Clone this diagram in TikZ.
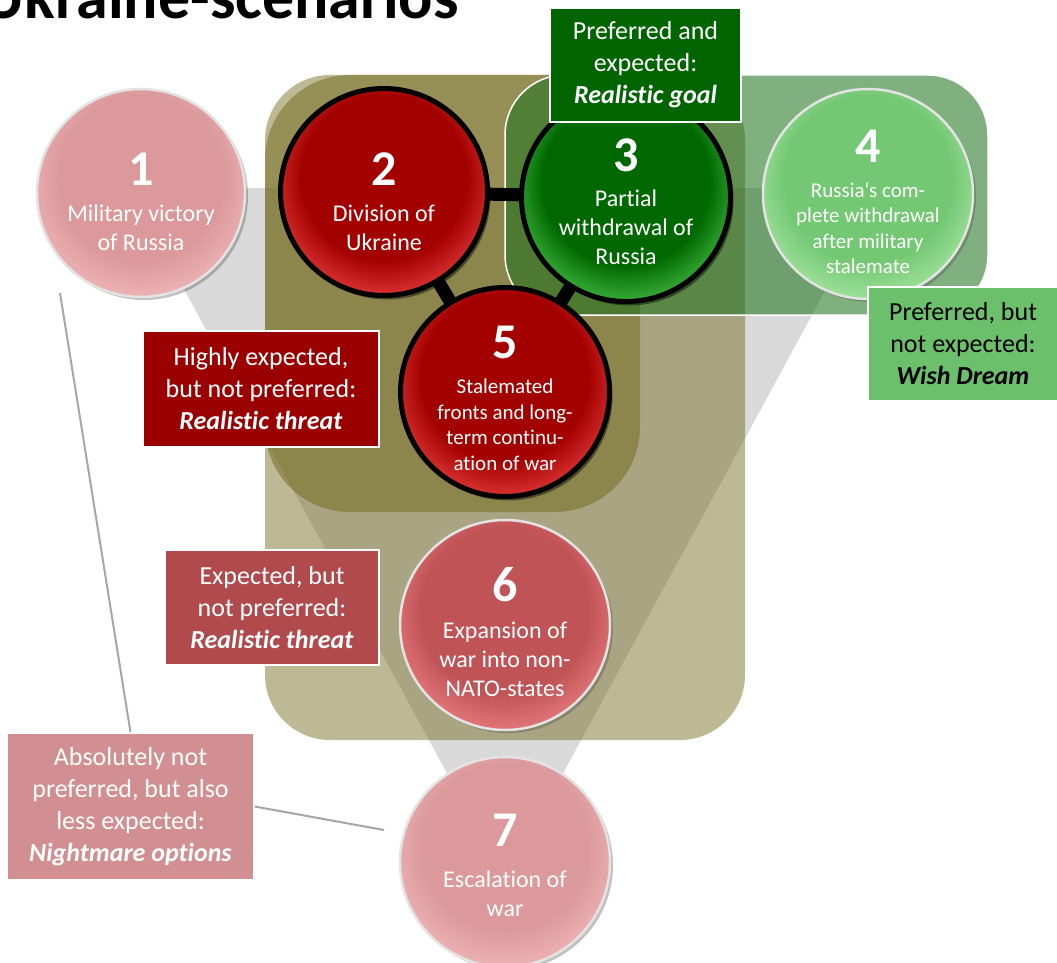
\documentclass[tikz,border=0pt]{standalone}
\usepackage{fontspec}
\setmainfont{Carlito}[Ligatures=NoCommon]
\usetikzlibrary{shadows}

% palette
\definecolor{funnelgray}{HTML}{D9D9D9}
\definecolor{khaki}{HTML}{736A1E}
\definecolor{zonegreen}{HTML}{1D721B}
\definecolor{pinkA}{HTML}{DB999B}
\definecolor{pinkB}{HTML}{F4BDBE}
\definecolor{redA}{HTML}{A30000}
\definecolor{redB}{HTML}{F04848}
\definecolor{greenA}{HTML}{006800}
\definecolor{greenB}{HTML}{52CA52}
\definecolor{lgreenA}{HTML}{74C874}
\definecolor{lgreenB}{HTML}{AEEAA8}
\definecolor{roseA}{HTML}{C05356}
\definecolor{roseB}{HTML}{F08486}
\definecolor{boxgreen}{HTML}{006400}
\definecolor{boxlgreen}{HTML}{6DC06B}
\definecolor{boxdred}{HTML}{9A0000}
\definecolor{boxred}{HTML}{B04A4D}
\definecolor{boxpink}{HTML}{D18F91}
\definecolor{pointergray}{HTML}{A6A6A6}

% glossy button fills: flat on top, brighter crescent towards the bottom
\pgfdeclareradialshading{glossPink}{\pgfpoint{0bp}{6bp}}{color(0bp)=(pinkA); color(20bp)=(pinkA); color(31bp)=(pinkB); color(50bp)=(pinkB)}
\pgfdeclareradialshading{glossRed}{\pgfpoint{0bp}{6bp}}{color(0bp)=(redA); color(20bp)=(redA); color(31bp)=(redB); color(50bp)=(redB)}
\pgfdeclareradialshading{glossGreen}{\pgfpoint{0bp}{6bp}}{color(0bp)=(greenA); color(20bp)=(greenA); color(31bp)=(greenB); color(50bp)=(greenB)}
\pgfdeclareradialshading{glossLGreen}{\pgfpoint{0bp}{6bp}}{color(0bp)=(lgreenA); color(20bp)=(lgreenA); color(31bp)=(lgreenB); color(50bp)=(lgreenB)}
\pgfdeclareradialshading{glossRose}{\pgfpoint{0bp}{6bp}}{color(0bp)=(roseA); color(20bp)=(roseA); color(31bp)=(roseB); color(50bp)=(roseB)}

\pgfdeclarelayer{back}
\pgfdeclarelayer{bars}
\pgfsetlayers{back,bars,main}

\begin{document}
\begin{tikzpicture}[x=1pt,y=-1pt,
  ringbtn/.style={circle, inner sep=0pt, draw=black, line width=5pt, shade,
    drop shadow={shadow xshift=3pt, shadow yshift=-4pt, opacity=0.45, fill=black}},
  bevelbtn/.style={circle, inner sep=0pt, draw=white!78!gray, line width=2.5pt, shade,
    drop shadow={shadow xshift=3pt, shadow yshift=-3pt, opacity=0.35, fill=black!70}},
  cnum/.style={text=white, inner sep=0pt, font=\fontsize{50}{50}\selectfont\bfseries},
  ctext/.style={text=white, align=center, inner sep=0pt, font=\fontsize{24}{29}\selectfont},
  csmall/.style={text=white, align=center, inner sep=0pt, font=\fontsize{21}{25.5}\selectfont},
  lab/.style={draw=white, line width=1.5pt, align=center, inner sep=0pt, text=white,
    font=\fontsize{26}{32}\selectfont},
  bar/.style={black, line width=13pt},
  pointer/.style={pointergray, line width=2pt}
]
\useasboundingbox (0,0) rectangle (1057,963);
\clip (0,0) rectangle (1057,963);

% zones behind the scenarios
\begin{pgfonlayer}{back}
  \fill[funnelgray] (129,188) -- (881,188) -- (505,880) -- cycle;
  \fill[khaki, fill opacity=0.47, rounded corners=65pt] (265,75) rectangle (745,740);
  \fill[khaki, fill opacity=0.53, rounded corners=85pt] (265,75) rectangle (640,512);
  \path[fill=zonegreen, fill opacity=0.56, draw=white, line width=1.5pt, rounded corners=60pt]
    (505,75) rectangle (988,315);
\end{pgfonlayer}

% scenario buttons
\node[bevelbtn, shading=glossPink,   minimum size=208pt] (c1) at (141,193) {};
\node[ringbtn,  shading=glossRed,    minimum size=207pt] (c2) at (384,192) {};
\node[ringbtn,  shading=glossGreen,  minimum size=209pt] (c3) at (626,197) {};
\node[bevelbtn, shading=glossLGreen, minimum size=210pt] (c4) at (868,194) {};
\node[ringbtn,  shading=glossRed,    minimum size=209pt] (c5) at (505,392) {};
\node[bevelbtn, shading=glossRose,   minimum size=210pt] (c6) at (505,625) {};
\node[bevelbtn, shading=glossPink,   minimum size=210pt] (c7) at (505,862) {};

% links between the core scenarios
\begin{pgfonlayer}{bars}
  \draw[bar] (c2.center) -- (c3.center);
  \draw[bar] (c2.center) -- (c5.center);
  \draw[bar] (c3.center) -- (c5.center);
\end{pgfonlayer}

% button captions
\node[cnum] (n1) at (141,169) {1};
\node[ctext] (t1) at (141,228) {Military victory\\of Russia};
\node[cnum] (n2) at (384,169) {2};
\node[ctext] (t2) at (384,228) {Division of\\Ukraine};
\node[cnum] (n3) at (626,155) {3};
\node[ctext] (t3) at (626,227) {Partial\\withdrawal of\\Russia};
\node[cnum] (n4) at (868,146) {4};
\node[csmall] (t4) at (868,228) {Russia‘s com-\\plete withdrawal\\after military\\stalemate};
\node[cnum] (n5) at (505,342) {5};
\node[csmall] (t5) at (505,425) {Stalemated\\fronts and long-\\term continu-\\ation of war};
\node[cnum] (n6) at (505,585) {6};
\node[ctext] (t6) at (505,659) {Expansion of\\war into non-\\NATO-states};
\node[cnum] (n7) at (505,830) {7};
\node[ctext] (t7) at (505,894) {Escalation of\\war};

% category labels
\node[lab, fill=boxgreen, minimum width=191pt, minimum height=114pt] (l3) at (645.5,65)
  {Preferred and\\expected:\\\textbf{\textit{Realistic goal}}};
\node[lab, fill=boxlgreen, text=black, minimum width=190pt, minimum height=114pt] (l4) at (963,344)
  {Preferred, but\\not expected:\\\textbf{\textit{Wish Dream}}};
\node[lab, fill=boxdred, minimum width=236pt, minimum height=116pt] (l5) at (261,389)
  {Highly expected,\\but not preferred:\\\textbf{\textit{Realistic threat}}};
\node[lab, fill=boxred, minimum width=214pt, minimum height=115pt] (l6) at (272,607.5)
  {Expected, but\\not preferred:\\\textbf{\textit{Realistic threat}}};
\node[lab, fill=boxpink, minimum width=247pt, minimum height=147pt] (l7) at (130.5,806.5)
  {Absolutely not\\preferred, but also\\less expected:\\\textbf{\textit{Nightmare options}}};

% pointers from the nightmare label
\coordinate (p1) at (60,293);
\coordinate (p7) at (384,830);
\draw[pointer] (p1) -- (l7.north);
\draw[pointer] (l7.east) -- (p7);

% heading
\node[anchor=base east, inner sep=0pt, font=\fontsize{64}{64}\selectfont\bfseries] (title) at (459,19)
  {Ukraine-scenarios};
\end{tikzpicture}
\end{document}
